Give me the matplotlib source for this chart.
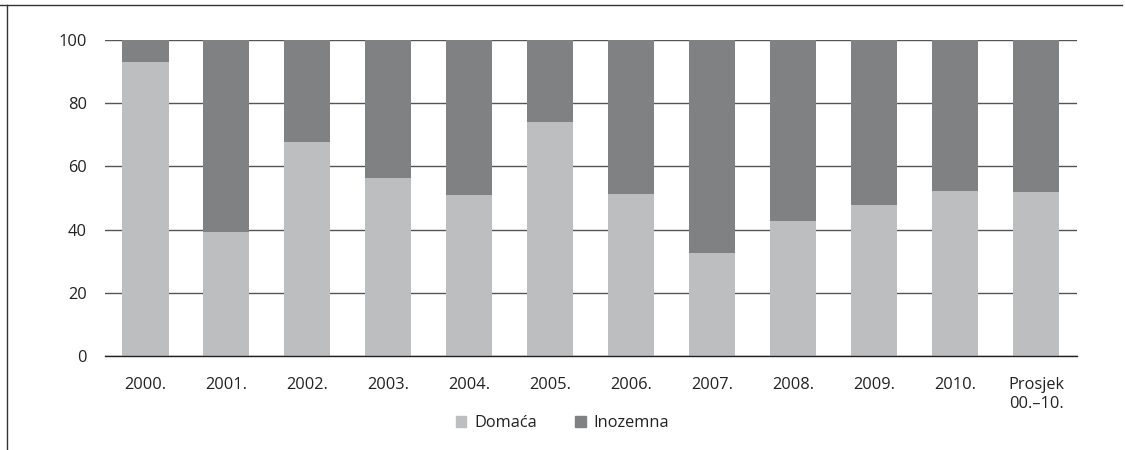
from matplotlib import pyplot as plt
from matplotlib.lines import Line2D
from matplotlib.patches import Patch
import numpy as np

godine = ["2000.", "2001.", "2002.", "2003.", "2004.", "2005.", "2006.",
          "2007.", "2008.", "2009.", "2010.", "Prosjek\n00.\u201310."]
domaca = [93.0, 39.3, 67.8, 56.4, 51.0, 74.0, 51.3, 32.7, 42.8, 47.8, 52.3, 52.0]
inozemna = [100 - d for d in domaca]

c_dom = "#bdbec0"
c_ino = "#808183"

plt.rcParams['font.family'] = ['Open Sans', 'DejaVu Sans']

f1 = plt.figure(figsize=(11.25, 4.5), dpi=100)
ax1 = f1.add_axes([0.0933, 0.209, 0.8637, 0.702])

x = np.arange(len(godine))
ax1.bar(x, domaca, width=0.57, color=c_dom, zorder=2)
ax1.bar(x, inozemna, bottom=domaca, width=0.57, color=c_ino, zorder=2)

ax1.set_xlim(-0.5, len(godine) - 0.5)
ax1.set_ylim(0, 100)
ax1.set_yticks([0, 20, 40, 60, 80, 100])
ax1.yaxis.grid(True, color="#555555", linewidth=1.0, zorder=0)
ax1.set_axisbelow(True)
for s in ['top', 'right', 'left']:
    ax1.spines[s].set_visible(False)
ax1.spines['bottom'].set_color("#222222")
ax1.spines['bottom'].set_linewidth(1.0)
ax1.spines['bottom'].set_zorder(3)

ax1.set_xticks(x)
ax1.set_xticklabels(godine, fontsize=11.8, color="#222222", linespacing=1.3)
ax1.tick_params(axis='x', length=0, pad=15)
ax1.tick_params(axis='y', length=0, pad=13, labelsize=11.8, labelcolor="#222222")
for t in ax1.get_xticklabels():
    t.set_verticalalignment('top')
ax1.get_xticklabels()[-1].set_horizontalalignment('center')
ax1.get_xticklabels()[-1].set_multialignment('right')

handles = [Patch(color=c_dom), Patch(color=c_ino)]
f1.legend(handles, ["Domaća", "Inozemna"], loc='center', bbox_to_anchor=(0.5, 0.06),
          ncol=2, frameon=False, fontsize=11.8, handlelength=0.65, handleheight=0.65,
          columnspacing=2.3, handletextpad=0.5, labelcolor="#222222")

# okvir
f1.add_artist(Line2D([0, 0.997], [0.989, 0.989], transform=f1.transFigure, color="#333333", lw=1.0))
f1.add_artist(Line2D([0.0062, 0.0062], [0, 0.989], transform=f1.transFigure, color="#333333", lw=1.0))

f1.savefig("out.png", dpi=100)
